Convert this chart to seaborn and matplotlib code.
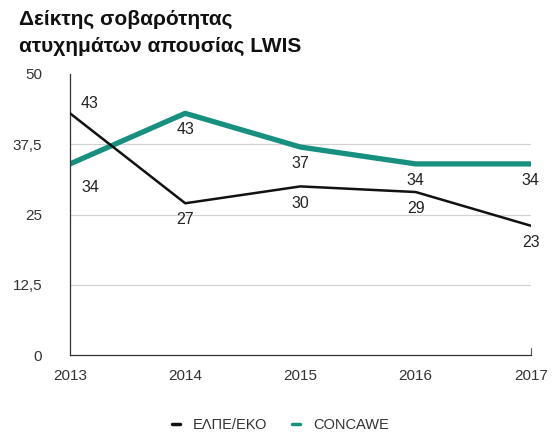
import matplotlib
matplotlib.use("Agg")
import matplotlib.pyplot as plt
import seaborn as sns
import pandas as pd
from matplotlib.lines import Line2D

years = [2013, 2014, 2015, 2016, 2017]
elpe = [43, 27, 30, 29, 23]
concawe = [34, 43, 37, 34, 34]
series_names = ["ΕΛΠΕ/ΕΚΟ", "CONCAWE"]
yticks = [0, 12.5, 25, 37.5, 50]
ytick_labels = ["0", "12,5", "25", "37,5", "50"]
title = "Δείκτης σοβαρότητας\nατυχημάτων απουσίας LWIS"

sns.set_style("white")
plt.rcParams['font.family'] = ['Liberation Sans', 'DejaVu Sans']

teal = "#17907f"
colors = ["#111111", teal]
widths = [1.8, 3.8]

df = pd.DataFrame({"year": years * 2,
                   "value": elpe + concawe,
                   "series": [series_names[0]] * 5 + [series_names[1]] * 5})

fig = plt.figure(figsize=(5.53, 4.37), dpi=100)
ax = fig.add_axes([0.1266, 0.1876, 0.8334, 0.6431])

for name, c, w in zip(series_names, colors, widths):
    sub = df[df.series == name]
    sns.lineplot(data=sub, x="year", y="value", color=c, linewidth=w, ax=ax,
                 legend=False, zorder=3 if name == series_names[0] else 2)

ax.set_xlim(years[0], years[-1])
ax.set_ylim(0, 50)
ax.set_xticks(years)
ax.set_xticklabels([str(y) for y in years])
ax.set_yticks(yticks)
ax.set_yticklabels(ytick_labels)
ax.set_xlabel("")
ax.set_ylabel("")
for g in yticks[1:-1]:
    ax.axhline(g, color="#d2d2d2", linewidth=0.9, zorder=0)

ax.spines["top"].set_visible(False)
ax.spines["right"].set_visible(False)
for s in ["left", "bottom"]:
    ax.spines[s].set_color("#333333")
    ax.spines[s].set_linewidth(0.9)
ax.tick_params(axis="both", direction="in", length=7, width=0.8, color="#555555",
               labelsize=11, labelcolor="#333333")
ax.tick_params(axis="x", pad=10)
ax.tick_params(axis="y", pad=20)
# right-end tick at 2017
ax.plot([1, 1], [0, 0.025], transform=ax.transAxes, color="#555555", lw=0.8, clip_on=False)

# data labels
fs = 11.5
lc = "#222222"
for i, (x, v) in enumerate(zip(years, elpe)):
    if i == 0:
        ax.annotate(str(v), (x, v), xytext=(8, 7), textcoords="offset points",
                    ha="left", va="center", fontsize=fs, color=lc)
    else:
        ax.annotate(str(v), (x, v), xytext=(0, -12), textcoords="offset points",
                    ha="center", va="center", fontsize=fs, color=lc)
for i, (x, v) in enumerate(zip(years, concawe)):
    if i == 0:
        ax.annotate(str(v), (x, v), xytext=(8, -17), textcoords="offset points",
                    ha="left", va="center", fontsize=fs, color=lc)
    else:
        ax.annotate(str(v), (x, v), xytext=(0, -12), textcoords="offset points",
                    ha="center", va="center", fontsize=fs, color=lc)

fig.text(0.034, 0.978, title, ha="left", va="top", fontsize=15, fontweight="bold",
         color="#111111", linespacing=1.55)

handles = [Line2D([0], [0], color=colors[0], lw=2.5),
           Line2D([0], [0], color=teal, lw=2.5)]
fig.legend(handles, series_names, loc="center", bbox_to_anchor=(0.507, 0.027),
           ncol=2, frameon=False, handlelength=0.55, handletextpad=0.9,
           columnspacing=1.7, fontsize=10.5, labelcolor="#333333")

fig.savefig("out.png", dpi=100)
